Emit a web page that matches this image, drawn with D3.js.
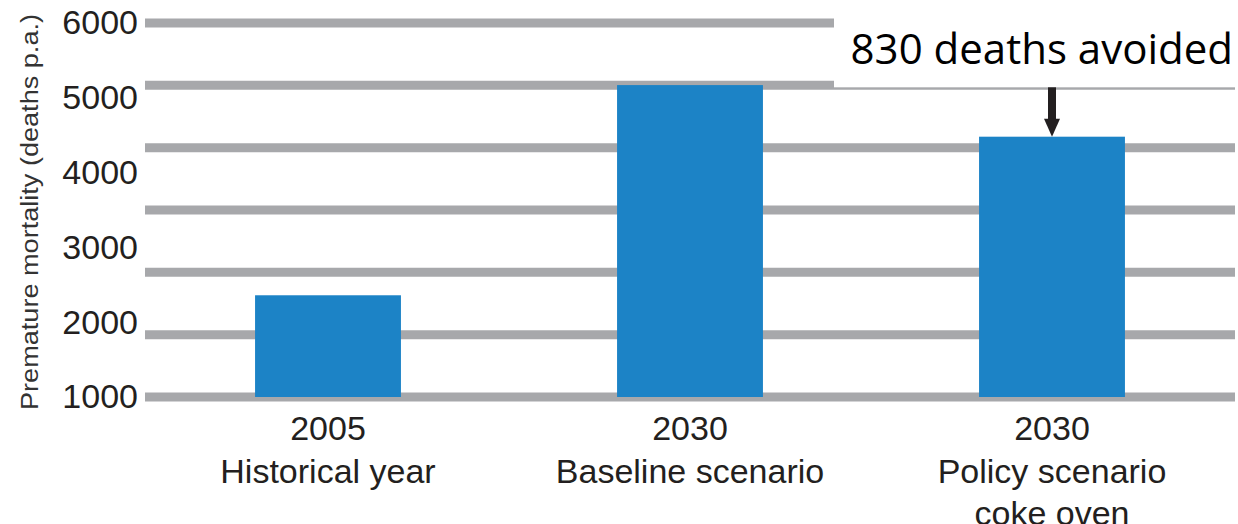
<!DOCTYPE html>
<html>
<head>
<meta charset="utf-8">
<script src="https://cdn.jsdelivr.net/npm/d3@7"></script>
<style>
  html, body { margin: 0; padding: 0; background: #fff; }
  svg { display: block; font-family: "Liberation Sans", Arial, sans-serif; }
</style>
</head>
<body>
<svg width="1238" height="524"></svg>
<script>
const categories = ["2005", "2030 Baseline", "2030 Policy"];
const yearLabels = ["2005", "2030", "2030"];
const nameLines = [["Historical year"], ["Baseline scenario"], ["Policy scenario", "coke oven"]];
const values = [2360, 5170, 4480];
const tickValues = [1000, 2000, 3000, 4000, 5000, 6000];
const gridValues = [1000, 1833, 2667, 3500, 4333, 5167, 6000];
const annotation = "830 deaths avoided";

const svg = d3.select("svg");
const width = +svg.attr("width");
const height = +svg.attr("height");

const x = d3.scaleBand()
  .domain(categories)
  .range([147, 1233])
  .paddingInner(0.597)
  .paddingOuter(0.2985);

const y = d3.scaleLinear()
  .domain([1000, 6000])
  .range([397, 23]);

// gridlines
svg.append("g")
  .selectAll("line")
  .data(gridValues)
  .join("line")
  .attr("x1", 145)
  .attr("x2", 1235)
  .attr("y1", d => y(d))
  .attr("y2", d => y(d))
  .attr("stroke", "#a7a8ab")
  .attr("stroke-width", 9);

// y tick labels
const yAxis = svg.append("g")
  .attr("transform", "translate(138,0)")
  .call(d3.axisLeft(y).tickValues(tickValues).tickSize(0).tickPadding(0).tickFormat(d3.format("d")));
yAxis.select(".domain").remove();
yAxis.selectAll("text")
  .attr("font-size", 34)
  .attr("font-family", "'Liberation Sans', Arial, sans-serif")
  .attr("fill", "#231f20");

// y title
svg.append("text")
  .attr("transform", `translate(38,${(410 + 14) / 2}) rotate(-90)`)
  .attr("text-anchor", "middle")
  .attr("font-size", 23)
  .attr("fill", "#333")
  .attr("textLength", 396)
  .attr("lengthAdjust", "spacingAndGlyphs")
  .text("Premature mortality (deaths p.a.)");

// bars
svg.append("g")
  .selectAll("rect")
  .data(values)
  .join("rect")
  .attr("x", (d, i) => x(categories[i]))
  .attr("width", x.bandwidth())
  .attr("y", d => y(d))
  .attr("height", d => y(1000) - y(d))
  .attr("fill", "#1c83c6");

// category labels
const labels = svg.append("g")
  .selectAll("text")
  .data(categories)
  .join("text")
  .attr("x", d => x(d) + x.bandwidth() / 2)
  .attr("text-anchor", "middle")
  .attr("font-size", 34)
  .attr("fill", "#231f20");

labels.each(function (d, i) {
  const t = d3.select(this);
  const cx = x(d) + x.bandwidth() / 2;
  t.append("tspan").attr("x", cx).attr("y", 440).text(yearLabels[i]);
  nameLines[i].forEach((line, j) => {
    t.append("tspan").attr("x", cx).attr("y", 483 + j * 42).text(line);
  });
});

// annotation box covering the top gridlines
const barX = x(categories[2]) + x.bandwidth() / 2;
svg.append("rect")
  .attr("x", 834)
  .attr("y", 0)
  .attr("width", width - 834)
  .attr("height", y(gridValues[5]) + 2)
  .attr("fill", "#fff");

svg.append("text")
  .attr("x", 1233)
  .attr("y", 64)
  .attr("text-anchor", "end")
  .attr("font-family", "'Open Sans', 'Noto Sans', sans-serif")
  .attr("font-size", 42)
  .attr("fill", "#000")
  .text(annotation);

// arrow
const arrowTop = y(gridValues[5]) + 2;
const arrowTip = y(values[2]);
svg.append("line")
  .attr("x1", barX)
  .attr("x2", barX)
  .attr("y1", arrowTop)
  .attr("y2", arrowTip - 14)
  .attr("stroke", "#231f20")
  .attr("stroke-width", 8);
svg.append("path")
  .attr("d", `M${barX - 8},${arrowTip - 18} L${barX + 8},${arrowTip - 18} L${barX},${arrowTip} Z`)
  .attr("fill", "#231f20");
</script>
</body>
</html>
